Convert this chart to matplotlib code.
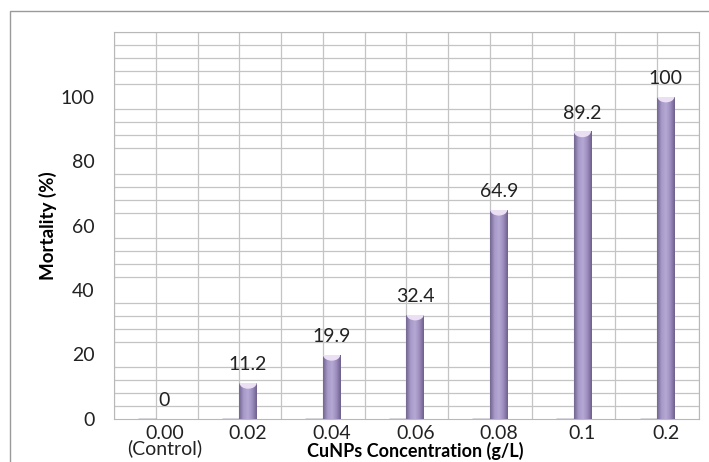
import numpy as np
import matplotlib
matplotlib.use("Agg")
import matplotlib.pyplot as plt
from matplotlib.patches import Ellipse, Rectangle
from matplotlib.colors import LinearSegmentedColormap

plt.rcParams['font.family'] = ['Lato', 'DejaVu Sans']

# data
categories = ["0.00\n(Control)", "0.02", "0.04", "0.06", "0.08", "0.1", "0.2"]
mortality = [0, 11.2, 19.9, 32.4, 64.9, 89.2, 100]
empty_series = [0, 0, 0, 0, 0, 0, 0]
y_ticks = [0, 20, 40, 60, 80, 100]

fig = plt.figure(figsize=(7.09, 4.62), dpi=100)
ax = fig.add_axes([0.1608, 0.0931, 0.825, 0.8376])

# outer chart border (cut off on right and bottom like the source)
fig.patches.append(Rectangle((10 / 709, -0.05), 1.0, 1 - 11 / 462 + 0.05,
                             transform=fig.transFigure, fill=False,
                             edgecolor='#9a9a9a', linewidth=1.0))

x = np.arange(len(categories))
w = 0.21

ax.set_xlim(-0.5, len(categories) - 0.5)
ax.set_ylim(0, 120)
ax.set_xticks(x + w / 2)
ax.set_xticklabels(categories, fontsize=14, color='#222222', linespacing=0.85)
ax.set_yticks(y_ticks)
ax.set_yticklabels([str(t) for t in y_ticks], fontsize=14, color='#222222')
ax.set_xticks(np.arange(-0.5, len(categories), 0.5), minor=True)
ax.set_yticks(np.arange(0, 121, 4), minor=True)
ax.tick_params(which='both', length=0)
ax.tick_params(axis='y', pad=14)
ax.tick_params(axis='x', pad=4)
ax.grid(which='minor', color='#c4c4c4', linewidth=0.9)
ax.set_axisbelow(True)
for s in ax.spines.values():
    s.set_color('#b8b8b8')

# flat empty series bars (show as dark base lines)
ax.bar(x - w, empty_series, width=w, align='edge', color='none',
       edgecolor='#4a4060', linewidth=1.0, zorder=3)

bars = ax.bar(x, mortality, width=w, align='edge', color='#9d8ec2',
              edgecolor='none', zorder=3)

cmap = LinearSegmentedColormap.from_list(
    'cyl', ['#72658f', '#a799c9', '#b6a9d4', '#9c8dbf', '#6d5f8b'])
grad = np.linspace(0, 1, 64).reshape(1, -1)
for b, v in zip(bars, mortality):
    if v <= 0:
        continue
    x0 = b.get_x()
    im = ax.imshow(grad, cmap=cmap, aspect='auto', zorder=3.5,
                   extent=[x0, x0 + w, 0, v], interpolation='bicubic')
    im.set_clip_path(b)
    cap = Ellipse((x0 + w / 2, v), w * 0.9, 3.2, color='#eadff3', zorder=4)
    ax.add_patch(cap)
    cap.set_clip_path(b)

for xi, v in zip(x, mortality):
    lab = f"{v:g}"
    ax.annotate(lab, (xi + w / 2, v), xytext=(0, 7), textcoords='offset points',
                ha='center', va='bottom', fontsize=14, color='#222222')

ax.set_ylabel("Mortality (%)", fontsize=13.5, fontweight='bold', va='center')
ax.yaxis.set_label_coords(-0.113, 0.5)
ax.set_xlabel("CuNPs Concentration (g/L)", fontsize=13, fontweight='bold',
              va='center')
ax.xaxis.set_label_coords(0.515, -0.083)

fig.savefig("out.png", dpi=100)
